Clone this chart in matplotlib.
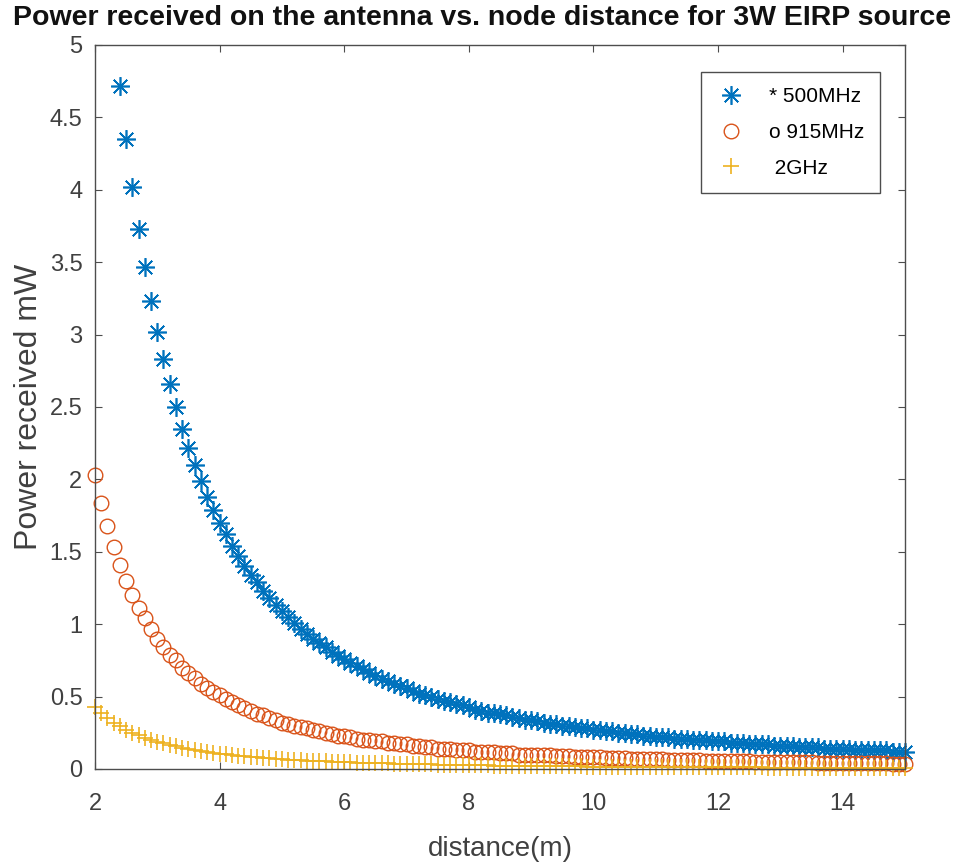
import matplotlib
matplotlib.use('Agg')
from matplotlib import pyplot as plt
from matplotlib.patches import Rectangle

# distance (m), sampled every 0.1 m
distance = [
    2.0, 2.1, 2.2, 2.3, 2.4, 2.5, 2.6, 2.7, 2.8, 2.9,
    3.0, 3.1, 3.2, 3.3, 3.4, 3.5, 3.6, 3.7, 3.8, 3.9,
    4.0, 4.1, 4.2, 4.3, 4.4, 4.5, 4.6, 4.7, 4.8, 4.9,
    5.0, 5.1, 5.2, 5.3, 5.4, 5.5, 5.6, 5.7, 5.8, 5.9,
    6.0, 6.1, 6.2, 6.3, 6.4, 6.5, 6.6, 6.7, 6.8, 6.9,
    7.0, 7.1, 7.2, 7.3, 7.4, 7.5, 7.6, 7.7, 7.8, 7.9,
    8.0, 8.1, 8.2, 8.3, 8.4, 8.5, 8.6, 8.7, 8.8, 8.9,
    9.0, 9.1, 9.2, 9.3, 9.4, 9.5, 9.6, 9.7, 9.8, 9.9,
    10.0, 10.1, 10.2, 10.3, 10.4, 10.5, 10.6, 10.7, 10.8, 10.9,
    11.0, 11.1, 11.2, 11.3, 11.4, 11.5, 11.6, 11.7, 11.8, 11.9,
    12.0, 12.1, 12.2, 12.3, 12.4, 12.5, 12.6, 12.7, 12.8, 12.9,
    13.0, 13.1, 13.2, 13.3, 13.4, 13.5, 13.6, 13.7, 13.8, 13.9,
    14.0, 14.1, 14.2, 14.3, 14.4, 14.5, 14.6, 14.7, 14.8, 14.9,
    15.0,
]

# received power (mW)
p_500mhz = [
    6.80, 6.17, 5.62, 5.14, 4.72, 4.35, 4.02, 3.73, 3.47, 3.23,
    3.02, 2.83, 2.66, 2.50, 2.35, 2.22, 2.10, 1.99, 1.88, 1.79,
    1.70, 1.62, 1.54, 1.47, 1.40, 1.34, 1.29, 1.23, 1.18, 1.13,
    1.09, 1.05, 1.01, 0.97, 0.93, 0.90, 0.87, 0.84, 0.81, 0.78,
    0.76, 0.73, 0.71, 0.69, 0.66, 0.64, 0.62, 0.61, 0.59, 0.57,
    0.56, 0.54, 0.52, 0.51, 0.50, 0.48, 0.47, 0.46, 0.45, 0.44,
    0.43, 0.41, 0.40, 0.39, 0.39, 0.38, 0.37, 0.36, 0.35, 0.34,
    0.34, 0.33, 0.32, 0.31, 0.31, 0.30, 0.30, 0.29, 0.28, 0.28,
    0.27, 0.27, 0.26, 0.26, 0.25, 0.25, 0.24, 0.24, 0.23, 0.23,
    0.22, 0.22, 0.22, 0.21, 0.21, 0.21, 0.20, 0.20, 0.20, 0.19,
    0.19, 0.19, 0.18, 0.18, 0.18, 0.17, 0.17, 0.17, 0.17, 0.16,
    0.16, 0.16, 0.16, 0.15, 0.15, 0.15, 0.15, 0.14, 0.14, 0.14,
    0.14, 0.14, 0.13, 0.13, 0.13, 0.13, 0.13, 0.13, 0.12, 0.12,
    0.12,
]
p_915mhz = [
    2.03, 1.84, 1.68, 1.53, 1.41, 1.30, 1.20, 1.11, 1.04, 0.97,
    0.90, 0.845, 0.79, 0.75, 0.70, 0.66, 0.63, 0.59, 0.56, 0.53,
    0.51, 0.48, 0.46, 0.44, 0.42, 0.40, 0.38, 0.37, 0.35, 0.34,
    0.32, 0.31, 0.30, 0.29, 0.28, 0.27, 0.26, 0.25, 0.24, 0.23,
    0.23, 0.22, 0.21, 0.20, 0.20, 0.19, 0.19, 0.18, 0.18, 0.17,
    0.17, 0.16, 0.16, 0.15, 0.15, 0.14, 0.14, 0.14, 0.13, 0.13,
    0.13, 0.12, 0.12, 0.12, 0.12, 0.11, 0.11, 0.11, 0.10, 0.10,
    0.10, 0.10, 0.096, 0.094, 0.092, 0.090, 0.088, 0.086, 0.085, 0.083,
    0.081, 0.080, 0.078, 0.077, 0.075, 0.074, 0.072, 0.071, 0.070, 0.068,
    0.067, 0.066, 0.065, 0.064, 0.062, 0.061, 0.060, 0.059, 0.058, 0.057,
    0.056, 0.055, 0.055, 0.054, 0.053, 0.052, 0.051, 0.050, 0.050, 0.049,
    0.048, 0.047, 0.047, 0.046, 0.045, 0.045, 0.044, 0.043, 0.043, 0.042,
    0.041, 0.041, 0.040, 0.040, 0.039, 0.039, 0.038, 0.038, 0.037, 0.037,
    0.036,
]
p_2ghz = [
    0.425, 0.385, 0.351, 0.321, 0.295, 0.272, 0.251, 0.233, 0.217, 0.202,
    0.189, 0.177, 0.166, 0.156, 0.147, 0.139, 0.131, 0.124, 0.118, 0.112,
    0.106, 0.101, 0.096, 0.092, 0.088, 0.084, 0.080, 0.077, 0.074, 0.071,
    0.068, 0.065, 0.063, 0.061, 0.058, 0.056, 0.054, 0.052, 0.051, 0.049,
    0.047, 0.046, 0.044, 0.043, 0.042, 0.040, 0.039, 0.038, 0.037, 0.036,
    0.035, 0.034, 0.033, 0.032, 0.031, 0.030, 0.029, 0.029, 0.028, 0.027,
    0.027, 0.026, 0.025, 0.025, 0.024, 0.024, 0.023, 0.022, 0.022, 0.021,
    0.021, 0.021, 0.020, 0.020, 0.019, 0.019, 0.018, 0.018, 0.018, 0.017,
    0.017, 0.017, 0.016, 0.016, 0.016, 0.015, 0.015, 0.015, 0.015, 0.014,
    0.014, 0.014, 0.014, 0.013, 0.013, 0.013, 0.013, 0.012, 0.012, 0.012,
    0.012, 0.012, 0.011, 0.011, 0.011, 0.011, 0.011, 0.011, 0.010, 0.010,
    0.010, 0.010, 0.010, 0.010, 0.009, 0.009, 0.009, 0.009, 0.009, 0.009,
    0.009, 0.009, 0.008, 0.008, 0.008, 0.008, 0.008, 0.008, 0.008, 0.008,
    0.008,
]

labels = ['* 500MHz', 'o 915MHz', ' 2GHz']
x_ticks = [2, 4, 6, 8, 10, 12, 14]
y_ticks = [0, 0.5, 1, 1.5, 2, 2.5, 3, 3.5, 4, 4.5, 5]
y_ticklabels = ['0', '0.5', '1', '1.5', '2', '2.5', '3', '3.5', '4', '4.5', '5']

plt.rcParams['font.family'] = ['Liberation Sans', 'DejaVu Sans']
axis_col = '#4d4d4d'

fig = plt.figure(figsize=(9.65, 8.65), dpi=100)
ax = fig.add_axes([0.0984, 0.111, 0.8394, 0.837])

lines = []
lines += ax.plot(distance, p_500mhz, linestyle='none', marker=(8, 2, 0), markersize=13.5,
                 markeredgewidth=1.2, color='#0072BD', label=labels[0])
lines += ax.plot(distance, p_915mhz, linestyle='none', marker='o', markersize=10.5,
                 markerfacecolor='none', markeredgewidth=1.0, color='#D95319', label=labels[1])
lines += ax.plot(distance, p_2ghz, linestyle='none', marker='+', markersize=12,
                 markeredgewidth=1.2, color='#EDB120', label=labels[2])

# like MATLAB: markers at the sides stay whole, points above the top are cut
for ln in lines:
    ln.set_clip_path(Rectangle((-0.05, -0.05), 1.1, 1.05, transform=ax.transAxes))

ax.set_xlim(2, 15)
ax.set_ylim(0, 5)
ax.set_xticks(x_ticks)
ax.set_yticks(y_ticks)
ax.set_yticklabels(y_ticklabels)
ax.tick_params(direction='in', top=True, right=True, labelsize=17,
               colors=axis_col, labelcolor='#404040', length=5, width=0.8)
ax.tick_params(axis='x', pad=17)
ax.tick_params(axis='y', pad=9)
for sp in ax.spines.values():
    sp.set_color(axis_col)
    sp.set_linewidth(1.0)

ax.set_xlabel('distance(m)', fontsize=20, color='#404040', va='center')
ax.xaxis.set_label_coords(0.5, -0.11)
ax.set_ylabel('Power received mW', fontsize=23, color='#404040', va='center')
ax.yaxis.set_label_coords(-0.082, 0.5)

fig.text(0.5, 1 - 18 / 865, 'Power received on the antenna vs. node distance for 3W EIRP source',
         ha='center', va='center', fontsize=20.5, fontweight='bold', color='#111111')

leg = ax.legend(loc='upper right', bbox_to_anchor=(0.969, 0.963), borderaxespad=0,
                fontsize=15, fancybox=False, edgecolor=axis_col, framealpha=1,
                handlelength=1.4, handletextpad=1.1, borderpad=0.75, labelspacing=0.8)
leg.get_frame().set_linewidth(1.0)

fig.savefig('out.png', dpi=100)
